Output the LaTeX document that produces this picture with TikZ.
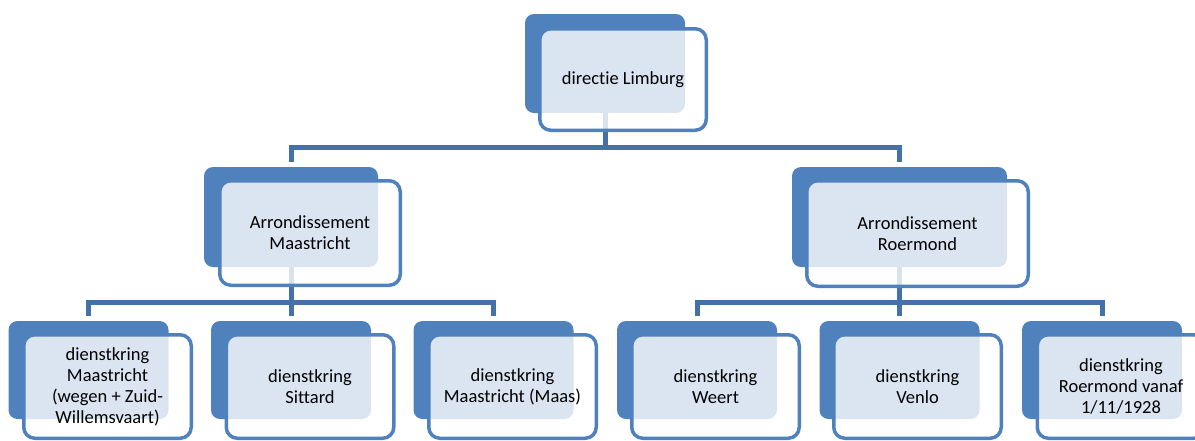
\documentclass[tikz,border=0pt]{standalone}
\usepackage{fontspec}
\setmainfont{Carlito}[Ligatures=NoCommon]
\usepackage{tikz}
\usetikzlibrary{positioning}
\definecolor{accent}{HTML}{4F81BD}
\definecolor{linkblue}{HTML}{4472A8}
\tikzset{
  backbox/.style={rectangle,fill=accent,rounded corners=9pt,inner sep=0pt},
  lowback/.style={backbox,minimum width=160pt,minimum height=98pt},
  frontbox/.style={rectangle,draw=accent,line width=3.5pt,fill=white,fill opacity=.8,text opacity=1,rounded corners=11pt,align=center,inner sep=0pt,font=\fontsize{18.5}{21}\selectfont},
  lowfront/.style={frontbox,minimum width=167.5pt,minimum height=103.5pt},
  link/.style={draw=linkblue,line width=5pt,shorten >=5pt}
}
\begin{document}
\begin{tikzpicture}[x=1pt,y=-1pt]
\useasboundingbox (0,0) rectangle (1195,440);
\clip (0,0) rectangle (1195,440);
\node[backbox,minimum width=160pt,minimum height=99pt] (dirB) at (605,63.5) {};
\node[backbox,minimum width=174pt,minimum height=100pt] (maaB) at (291,217) {};
\node[backbox,minimum width=215pt,minimum height=100pt] (roeB) at (899.5,217) {};
\node[lowback] (k1B) at (88.5,370) {};
\node[lowback] (k2B) at (291,370) {};
\node[lowback] (k3B) at (493.5,370) {};
\node[lowback] (k4B) at (697,370) {};
\node[lowback] (k5B) at (899.5,370) {};
\node[lowback] (k6B) at (1102,370) {};
\draw[link] (dirB.south) -- (dirB.south |- 0,147) -| (maaB.north);
\draw[link] (dirB.south |- 0,147) -| (roeB.north);
\draw[link] (maaB.south) -- (maaB.south |- 0,302) -| (k1B.north);
\draw[link] (maaB.south |- 0,302) -- (k2B.north);
\draw[link] (maaB.south |- 0,302) -| (k3B.north);
\draw[link] (roeB.south) -- (roeB.south |- 0,302) -| (k4B.north);
\draw[link] (roeB.south |- 0,302) -- (k5B.north);
\draw[link] (roeB.south |- 0,302) -| (k6B.north);
\node[frontbox,minimum width=166.5pt,minimum height=101.5pt] (dir) at (623,79.5) {directie Limburg};
\node[frontbox,minimum width=180.5pt,minimum height=104.5pt] (maa) at (310,233) {Arrondissement\\Maastricht};
\node[frontbox,minimum width=221.5pt,minimum height=105.5pt] (roe) at (917.5,233.5) {Arrondissement\\Roermond};
\node[lowfront] (k1) at (107.5,386.5) {dienstkring\\Maastricht\\(wegen + Zuid-\\Willemsvaart)};
\node[lowfront] (k2) at (310,386.5) {dienstkring\\Sittard};
\node[lowfront] (k3) at (512.5,386.5) {dienstkring\\Maastricht (Maas)};
\node[lowfront] (k4) at (715.5,386.5) {dienstkring\\Weert};
\node[lowfront] (k5) at (917.5,386.5) {dienstkring\\Venlo};
\node[lowfront] (k6) at (1121,386.5) {dienstkring\\Roermond vanaf\\1/11/1928};
\end{tikzpicture}
\end{document}
